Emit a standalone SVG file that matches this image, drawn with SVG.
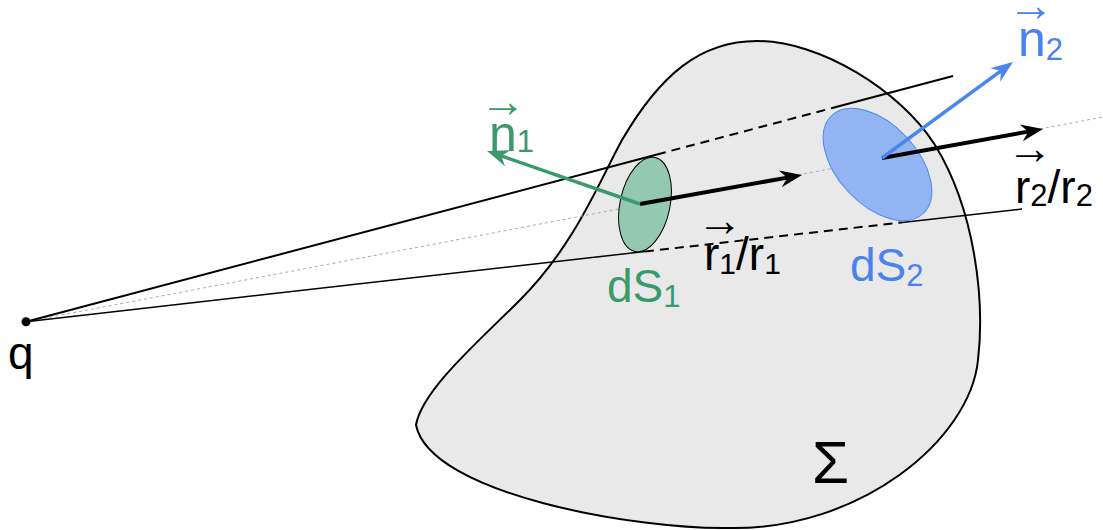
<svg xmlns="http://www.w3.org/2000/svg" width="1103" height="530" viewBox="0 0 1103 530">
<defs>
<style>
.t{font-family:"Liberation Sans",Arial,sans-serif}
.blk{fill:#000}
.grn{fill:#3a9a6b}
.blu{fill:#4a82f2}
.ln{stroke:#000;stroke-width:2;fill:none}
.dash{stroke-dasharray:9 6}
.thin{stroke:#000;stroke-width:1.5;fill:none}
.acc{font-family:"Liberation Sans",Arial,sans-serif;font-size:46px;text-anchor:middle}
</style>
<marker id="hk" markerUnits="userSpaceOnUse" viewBox="-24 -10 26 20" markerWidth="26" markerHeight="20" refX="-12" refY="0" orient="auto">
<path d="M0 0 L-22 -8.5 L-15 0 L-22 8.5 Z" fill="#000"/>
</marker>
<marker id="hg" markerUnits="userSpaceOnUse" viewBox="-24 -10 26 20" markerWidth="26" markerHeight="20" refX="-12" refY="0" orient="auto">
<path d="M0 0 L-22 -8.5 L-15 0 L-22 8.5 Z" fill="#3a9a6b"/>
</marker>
<marker id="hb" markerUnits="userSpaceOnUse" viewBox="-24 -10 26 20" markerWidth="26" markerHeight="20" refX="-12" refY="0" orient="auto">
<path d="M0 0 L-22 -8.5 L-15 0 L-22 8.5 Z" fill="#4a86f0"/>
</marker>
</defs>

<g id="surface">
<path d="M757 41 C820 41 900 90 935 145 C975 210 985 300 978 360 C970 440 860 530 730 528 C640 530 430 495 416 425 C422 390 480 340 520 300 C575 245 600 180 622 140 C660 75 700 41 757 41 Z" fill="#e9e9e9" stroke="#000" stroke-width="2"/>
<text class="t blk" x="812" y="483" font-size="60">Σ</text>
</g>

<g id="connectors">
<line x1="26" y1="321.7" x2="1103" y2="117" stroke="#aaa" stroke-width="1" stroke-dasharray="3 3"/>
<line class="ln" x1="26" y1="321.7" x2="657" y2="154.5"/>
<line class="ln dash" x1="657" y1="154.5" x2="835" y2="107.3"/>
<line class="ln" x1="835" y1="107.3" x2="953" y2="76"/>
<line class="thin" x1="26" y1="321.7" x2="645" y2="251.5"/>
<line class="ln dash" x1="645" y1="251.5" x2="902" y2="222.4"/>
<line class="thin" x1="902" y1="222.4" x2="1022" y2="209"/>
</g>

<g id="dS1">
<ellipse cx="645" cy="204.5" rx="25" ry="48" transform="rotate(12 645 204.5)" fill="#93c9b0" stroke="#000" stroke-width="1"/>
<text class="t grn" x="607" y="302" font-size="46">dS<tspan font-size="31" dy="5">1</tspan></text>
</g>

<g id="dS2">
<ellipse cx="877.5" cy="164.5" rx="40" ry="67" transform="rotate(-43 877.5 164.5)" fill="#93b4f3" stroke="#4a86f0" stroke-width="1"/>
<text class="t blu" x="850" y="281" font-size="46">dS<tspan font-size="31" dy="5">2</tspan></text>
</g>

<g id="arrows">
<line x1="640" y1="204" x2="790.2" y2="177.1" stroke="#000" stroke-width="4" marker-end="url(#hk)"/>
<line x1="882" y1="158" x2="1031.2" y2="131.1" stroke="#000" stroke-width="4" marker-end="url(#hk)"/>
<line x1="640" y1="204" x2="498.4" y2="154.9" stroke="#3a9a6b" stroke-width="3.5" marker-end="url(#hg)"/>
<line x1="882" y1="158" x2="1003.3" y2="69.1" stroke="#4a86f0" stroke-width="3.5" marker-end="url(#hb)"/>
</g>

<g id="q">
<circle cx="26" cy="321.7" r="4.5" fill="#000"/>
<text class="t blk" x="8" y="369" font-size="46">q</text>
</g>

<g id="n1">
<text class="acc grn" x="503" y="117">→</text>
<text class="t grn" x="489" y="151" font-size="50">n<tspan font-size="31" dy="1">1</tspan></text>
</g>

<g id="n2">
<text class="acc blu" x="1031" y="21">→</text>
<text class="t blu" x="1018" y="56" font-size="50">n<tspan font-size="31" dy="4">2</tspan></text>
</g>

<g id="r1">
<text class="acc blk" x="720" y="236">→</text>
<text class="t blk" x="704" y="270" font-size="46">r<tspan font-size="30" dy="4">1</tspan><tspan dy="-4">/r</tspan><tspan font-size="30" dy="4">1</tspan></text>
</g>

<g id="r2">
<text class="acc blk" x="1030" y="164">→</text>
<text class="t blk" x="1015" y="203" font-size="46">r<tspan font-size="31" dy="3">2</tspan><tspan dy="-3">/r</tspan><tspan font-size="31" dy="3">2</tspan></text>
</g>
</svg>
